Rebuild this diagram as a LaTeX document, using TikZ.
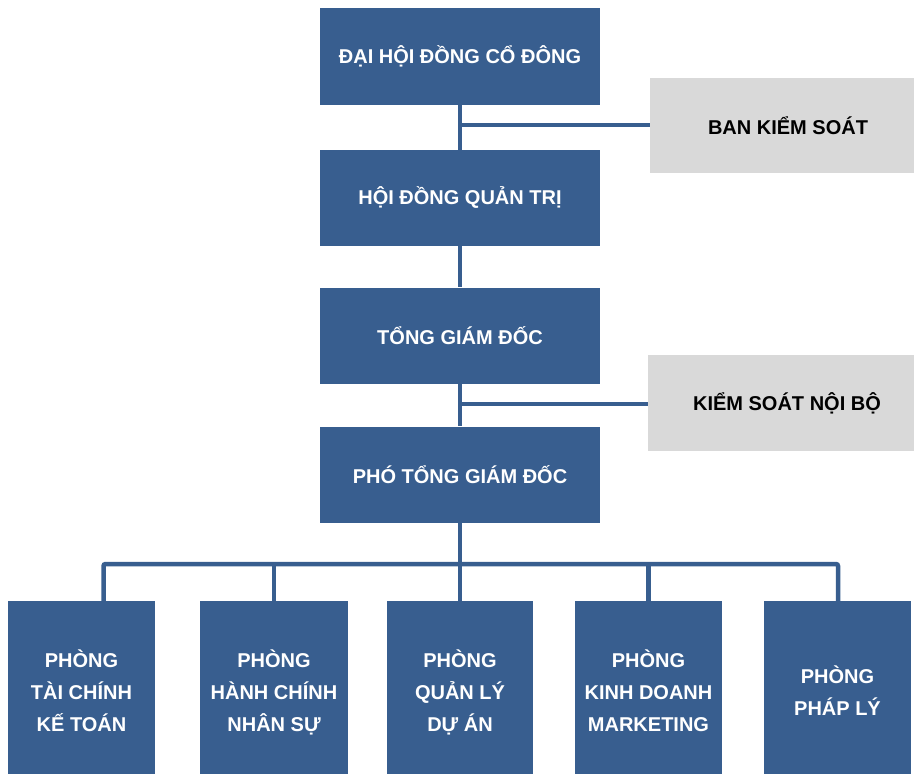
\documentclass[tikz,border=0pt]{standalone}
\usepackage{fontspec}
\setmainfont{Liberation Sans}
\definecolor{boxblue}{HTML}{385E8F}
\definecolor{boxgray}{HTML}{D9D9D9}
\newcommand\topst{\rule{0pt}{30pt}}
\newcommand\botst{\rule[-6pt]{0pt}{6pt}}
\begin{document}
\begin{tikzpicture}[x=1pt,y=-1pt,
  bluebox/.style={fill=boxblue,draw=none,text=white,font=\bfseries\fontsize{20}{32}\selectfont,align=center,inner sep=0pt},
  graybox/.style={fill=boxgray,draw=none,text=black,font=\bfseries\fontsize{20}{32}\selectfont,align=center,inner sep=0pt},
  link/.style={draw=boxblue,line width=4.5pt}]
\useasboundingbox (0,0) rectangle (914,774);
\fill[white] (0,0) rectangle (914,774);
% boxes
\node[bluebox,minimum width=280pt,minimum height=97pt] (top) at (460,56.5) {ĐẠI HỘI ĐỒNG CỔ ĐÔNG};
\node[bluebox,minimum width=280pt,minimum height=96pt] (hdqt) at (460,198) {HỘI ĐỒNG QUẢN TRỊ};
\node[bluebox,minimum width=280pt,minimum height=96pt] (tgd) at (460,335.5) {TỔNG GIÁM ĐỐC};
\node[bluebox,minimum width=280pt,minimum height=96pt] (ptgd) at (460,474.5) {PHÓ TỔNG GIÁM ĐỐC};
\node[graybox,minimum width=264pt,minimum height=95pt] (bks) at (782,125.5) {\hspace*{12pt}BAN KIỂM SOÁT};
\node[graybox,minimum width=266pt,minimum height=96pt] (ksnb) at (781,403) {\hspace*{12pt}KIỂM SOÁT NỘI BỘ};
\node[bluebox,minimum width=147pt,minimum height=173pt] (p1) at (81.5,687.5) {\topst PHÒNG\\TÀI CHÍNH\\KẾ TOÁN\botst};
\node[bluebox,minimum width=148pt,minimum height=173pt] (p2) at (274,687.5) {\topst PHÒNG\\HÀNH CHÍNH\\NHÂN SỰ\botst};
\node[bluebox,minimum width=146pt,minimum height=173pt] (p3) at (460,687.5) {\topst PHÒNG\\QUẢN LÝ\\DỰ ÁN\botst};
\node[bluebox,minimum width=147pt,minimum height=173pt] (p4) at (648.5,687.5) {\topst PHÒNG\\KINH DOANH\\MARKETING\botst};
\node[bluebox,minimum width=147pt,minimum height=173pt] (p5) at (837.5,687.5) {\topst PHÒNG\\PHÁP LÝ\botst};
% connectors
\coordinate (j1) at (460,125);
\coordinate (j2) at (460,404);
\coordinate (b1) at (103.5,564);
\coordinate (b5) at (838,564);
\begin{scope}[link]
\draw (top.south) -- (hdqt.north);
\draw (hdqt.south) -- (tgd.north);
\draw (tgd.south) -- (ptgd.north);
\draw (j1) -- (j1 -| bks.west);
\draw (j2) -- (j2 -| ksnb.west);
\draw (ptgd.south) -- (ptgd.south |- b1);
\draw[rounded corners=2pt] (b1 |- p1.north) -- (b1) -- (b5) -- (b5 |- p5.north);
\draw (p2.north) -- (p2.north |- b1);
\draw (p3.north) -- (p3.north |- b1);
\draw (p4.north) -- (p4.north |- b1);
\end{scope}
\end{tikzpicture}
\end{document}
